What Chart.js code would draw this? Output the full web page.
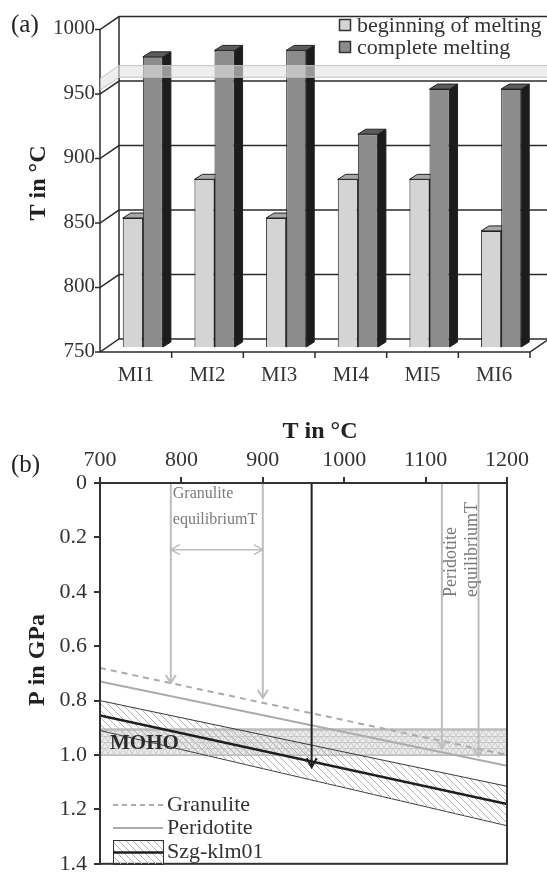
<!DOCTYPE html>
<html><head><meta charset="utf-8">
<script src="https://cdn.jsdelivr.net/npm/chart.js@4.4.1/dist/chart.umd.min.js"></script>
<style>
html,body{margin:0;padding:0;background:#fff;width:547px;height:884px;overflow:hidden}
#wa{position:absolute;left:0;top:0;width:547px;height:400px}
#wb{position:absolute;left:0;top:400px;width:547px;height:484px}
canvas{display:block}
</style></head><body>
<div id="wa"><canvas id="ca" width="547" height="400"></canvas></div>
<div id="wb"><canvas id="cb" width="547" height="484"></canvas></div>
<script>
// ---------- data (a) ----------
const samples = ['MI1','MI2','MI3','MI4','MI5','MI6'];
const beginningOfMelting = [850, 880, 850, 880, 880, 840];
const completeMelting = [975, 980, 980, 915, 950, 950];
const tempTicksA = [750, 800, 850, 900, 950, 1000];
const breakBandA = [953, 962];

// ---------- data (b) ----------
const tempEndsB = [700, 1200];
const granuliteP = [0.68, 1.00];
const peridotiteP = [0.73, 1.04];
const szgUpperP = [0.80, 1.115];
const szgMidP = [0.855, 1.18];
const szgLowerP = [0.91, 1.26];
const mohoP = [0.905, 1.0];
const pressureTicks = ['0','0.2','0.4','0.6','0.8','1.0','1.2','1.4'];
const granuliteEqT = [787, 900];
const granuliteEqTipP = [0.735, 0.79];
const granuliteRangeP = 0.245;
const peridotiteEqT = [1120, 1165];
const peridotiteEqTipP = [0.975, 1.005];
const szgArrowT = 960;
const szgArrowTipP = 1.045;

const FONT = '"Liberation Serif","Times New Roman",serif';
const FRONT = {dx:-7, dy:5}, BACK = {dx:12, dy:-8}, DEPTH = {dx:8, dy:-5};
const faceColors = [{top:'#a8a8a8', side:'#555555'}, {top:'#5c5c5c', side:'#1c1c1c'}];

function poly(ctx, p, fill, stroke){
  ctx.beginPath(); ctx.moveTo(p[0][0],p[0][1]);
  for(let i=1;i<p.length;i++) ctx.lineTo(p[i][0],p[i][1]);
  ctx.closePath();
  if(fill){ctx.fillStyle=fill; ctx.fill();}
  if(stroke){ctx.strokeStyle=stroke; ctx.stroke();}
}

const box3d = {
  id:'box3d',
  beforeDatasetsDraw(chart){
    const {ctx, chartArea:ca, scales:{x, y}} = chart;
    const W = chart.width;
    const L = ca.left, R = ca.right;
    const fx = L+FRONT.dx, bx = L+BACK.dx;
    const yTop = y.getPixelForValue(y.max), yBot = y.getPixelForValue(y.min);
    ctx.save();
    ctx.strokeStyle = '#2b2b2b'; ctx.lineWidth = 1.5; ctx.lineJoin='miter';
    ctx.beginPath();
    ctx.moveTo(bx, yTop+BACK.dy); ctx.lineTo(bx, yBot+BACK.dy);
    ctx.moveTo(fx, yTop+FRONT.dy); ctx.lineTo(fx, yBot+FRONT.dy);
    ctx.stroke();
    tempTicksA.forEach(v=>{
      const yy = y.getPixelForValue(v);
      ctx.beginPath();
      ctx.moveTo(fx-5, yy+FRONT.dy);
      ctx.lineTo(fx, yy+FRONT.dy);
      ctx.lineTo(bx, yy+BACK.dy);
      ctx.lineTo(v===y.min ? R+BACK.dx : W, yy+BACK.dy);
      ctx.stroke();
    });
    ctx.beginPath();
    ctx.moveTo(fx, yBot+FRONT.dy);
    ctx.lineTo(R+FRONT.dx, yBot+FRONT.dy);
    ctx.lineTo(R+BACK.dx, yBot+BACK.dy);
    ctx.stroke();
    ctx.beginPath();
    for(let i=1;i<=samples.length;i++){
      const xx = x.getPixelForValue(i-0.5)+FRONT.dx;
      ctx.moveTo(xx, yBot+FRONT.dy); ctx.lineTo(xx, yBot+FRONT.dy+6);
    }
    ctx.stroke();
    ctx.lineWidth = 1;
    chart.data.datasets.forEach((ds, di)=>{
      const meta = chart.getDatasetMeta(di);
      meta.data.forEach(el=>{
        const p = el.getProps(['x','y','width'], true);
        const xl = p.x-p.width/2, xr = p.x+p.width/2, top = p.y, base = yBot;
        poly(ctx, [[xr,top],[xr+DEPTH.dx,top+DEPTH.dy],[xr+DEPTH.dx,base+DEPTH.dy],[xr,base]], faceColors[di].side, '#222');
        poly(ctx, [[xl,top],[xl+DEPTH.dx,top+DEPTH.dy],[xr+DEPTH.dx,top+DEPTH.dy],[xr,top]], faceColors[di].top, '#222');
      });
    });
    ctx.restore();
  },
  afterDatasetsDraw(chart){
    const {ctx, chartArea:ca, scales:{y}} = chart;
    const W = chart.width;
    const L = ca.left;
    const fx = L+FRONT.dx, bx = L+BACK.dx;
    const y1 = y.getPixelForValue(breakBandA[1]), y2 = y.getPixelForValue(breakBandA[0]);
    ctx.save();
    const pts = [[fx,y1+FRONT.dy],[bx,y1+BACK.dy],[W,y1+BACK.dy],[W,y2+BACK.dy],[bx,y2+BACK.dy],[fx,y2+FRONT.dy]];
    poly(ctx, pts, 'rgba(228,228,228,0.62)', null);
    ctx.strokeStyle = '#c4c4c4'; ctx.lineWidth = 1;
    ctx.beginPath();
    ctx.moveTo(fx,y1+FRONT.dy); ctx.lineTo(bx,y1+BACK.dy); ctx.lineTo(W,y1+BACK.dy);
    ctx.moveTo(fx,y2+FRONT.dy); ctx.lineTo(bx,y2+BACK.dy); ctx.lineTo(W,y2+BACK.dy);
    ctx.stroke();
    ctx.restore();
  },
  afterDraw(chart){
    const {ctx} = chart;
    ctx.save();
    const cols = ['#d4d4d4', '#8c8c8c'];
    ctx.font = `22px ${FONT}`; ctx.textBaseline='middle'; ctx.textAlign='left';
    chart.data.datasets.forEach((ds,i)=>{
      const yy = 25 + i*22;
      ctx.fillStyle = cols[i]; ctx.fillRect(339.5, yy-5.5, 11, 11);
      ctx.strokeStyle = '#333'; ctx.lineWidth = 1.5; ctx.strokeRect(339.5, yy-5.5, 11, 11);
      ctx.fillStyle = '#333'; ctx.fillText(ds.label, 357, yy+1);
    });
    ctx.font = `25px ${FONT}`; ctx.fillStyle='#222';
    ctx.fillText('(a)', 11, 25);
    ctx.translate(39, 183); ctx.rotate(-Math.PI/2);
    ctx.font = `bold 24px ${FONT}`; ctx.textAlign='center';
    ctx.fillText('T in °C', 0, 0);
    ctx.restore();
  }
};

new Chart(document.getElementById('ca'), {
  type:'bar',
  data:{labels:samples, datasets:[
    {label:'beginning of melting', data:beginningOfMelting, backgroundColor:'#d4d4d4', borderColor:'#222', borderWidth:1, borderSkipped:false},
    {label:'complete melting', data:completeMelting, backgroundColor:'#8c8c8c', borderColor:'#222', borderWidth:1, borderSkipped:false}
  ]},
  options:{
    responsive:false, animation:false, devicePixelRatio:1,
    layout:{padding:{left:0, right:10, top:20, bottom:0}},
    datasets:{bar:{categoryPercentage:0.56, barPercentage:1}},
    plugins:{legend:{display:false}, tooltip:{enabled:false}},
    scales:{
      x:{grid:{display:false, drawTicks:false}, border:{display:false},
         ticks:{font:{family:FONT, size:21}, color:'#333', padding:16, labelOffset:-7, maxRotation:0, autoSkip:false},
         afterFit:s=>{s.height=53;}},
      y:{min:750, max:1000, grid:{display:false, drawTicks:false}, border:{display:false},
         afterBuildTicks:s=>{s.ticks = tempTicksA.map(v=>({value:v}));},
         ticks:{font:{family:FONT, size:21}, color:'#333', padding:12, labelOffset:4, callback:v=>String(v)},
         afterFit:s=>{s.width=107;}}
    }
  },
  plugins:[box3d]
});

// ---------- chart (b) ----------
function makePattern(size, fn){
  const c = document.createElement('canvas'); c.width = size; c.height = size;
  const g = c.getContext('2d'); fn(g, size);
  return g.createPattern(c, 'repeat');
}
const hatchPat = makePattern(7, (g,s)=>{
  g.strokeStyle = '#b4b4b4'; g.lineWidth = 1;
  g.beginPath();
  for(const k of [-s,0,s]){ g.moveTo(k,0); g.lineTo(k+s,s); }
  g.stroke();
});
const mohoPat = makePattern(6, (g,s)=>{
  g.fillStyle = '#ececec'; g.fillRect(0,0,s,s);
  g.strokeStyle = '#c2c2c2'; g.lineWidth = 0.8;
  g.beginPath();
  g.moveTo(0,0.5); g.lineTo(s,0.5);
  g.moveTo(0,s); g.lineTo(s/2,0); g.lineTo(s,s);
  g.stroke();
});
function pts(ts, ps){ return ts.map((t,i)=>({x:t, y:ps[i]})); }

function arrowHead(ctx, x, y, dir, len=8, half=5){
  ctx.beginPath();
  if(dir==='down'){ ctx.moveTo(x-half,y-len); ctx.lineTo(x,y); ctx.lineTo(x+half,y-len); }
  if(dir==='left'){ ctx.moveTo(x+len,y-half); ctx.lineTo(x,y); ctx.lineTo(x+len,y+half); }
  if(dir==='right'){ ctx.moveTo(x-len,y-half); ctx.lineTo(x,y); ctx.lineTo(x-len,y+half); }
  ctx.stroke();
}

const annotB = {
  id:'annotB',
  afterDatasetsDraw(chart){
    const {ctx, chartArea:ca, scales:{x, y}} = chart;
    ctx.save();
    const y0 = y.getPixelForValue(0);
    ctx.strokeStyle = '#bdbdbd'; ctx.lineWidth = 2;
    const grey = [...granuliteEqT.map((t,i)=>[t, granuliteEqTipP[i]]), ...peridotiteEqT.map((t,i)=>[t, peridotiteEqTipP[i]])];
    grey.forEach(([t,p])=>{
      const xx = x.getPixelForValue(t), yy = y.getPixelForValue(p);
      ctx.beginPath(); ctx.moveTo(xx, y0); ctx.lineTo(xx, yy); ctx.stroke();
      arrowHead(ctx, xx, yy, 'down');
    });
    const xa = x.getPixelForValue(granuliteEqT[0]), xb = x.getPixelForValue(granuliteEqT[1]);
    const yr = y.getPixelForValue(granuliteRangeP);
    ctx.lineWidth = 1.5;
    ctx.beginPath(); ctx.moveTo(xa, yr); ctx.lineTo(xb, yr); ctx.stroke();
    arrowHead(ctx, xa, yr, 'left', 9, 5); arrowHead(ctx, xb, yr, 'right', 9, 5);
    ctx.strokeStyle = '#1e1e1e'; ctx.lineWidth = 2;
    const xs = x.getPixelForValue(szgArrowT), ys = y.getPixelForValue(szgArrowTipP);
    ctx.beginPath(); ctx.moveTo(xs, y0); ctx.lineTo(xs, ys); ctx.stroke();
    arrowHead(ctx, xs, ys, 'down', 9, 5);
    ctx.fillStyle = '#7a7a7a'; ctx.textBaseline='middle'; ctx.textAlign='left';
    ctx.font = `16px ${FONT}`;
    ctx.fillText('Granulite', xa+2, 94);
    ctx.fillText('equilibriumT', xa+2, 120);
    ctx.save();
    ctx.font = `18px ${FONT}`;
    ctx.translate(x.getPixelForValue(peridotiteEqT[0])+9, 197); ctx.rotate(-Math.PI/2);
    ctx.fillText('Peridotite', 0, 0);
    ctx.restore();
    ctx.save();
    ctx.font = `18px ${FONT}`;
    ctx.translate(x.getPixelForValue(peridotiteEqT[1])-6, 197); ctx.rotate(-Math.PI/2);
    ctx.fillText('equilibriumT', 0, 0);
    ctx.restore();
    ctx.fillStyle = '#2a2a2a'; ctx.font = `bold 21px ${FONT}`;
    ctx.fillText('MOHO', ca.left+10, (y.getPixelForValue(mohoP[0])+y.getPixelForValue(mohoP[1]))/2+1);
    ctx.strokeStyle = '#333'; ctx.lineWidth = 2;
    ctx.strokeRect(ca.left, ca.top, ca.right-ca.left, ca.bottom-ca.top);
    const lx0 = ca.left+13, lx1 = ca.left+63, tx = ca.left+67;
    ctx.font = `22px ${FONT}`; ctx.fillStyle = '#333';
    ctx.strokeStyle = '#ababab'; ctx.lineWidth = 2;
    ctx.setLineDash([5,4]);
    ctx.beginPath(); ctx.moveTo(lx0, 405); ctx.lineTo(lx1, 405); ctx.stroke();
    ctx.setLineDash([]);
    ctx.fillText(chart.data.datasets[0].label, tx, 405);
    ctx.beginPath(); ctx.moveTo(lx0, 428); ctx.lineTo(lx1, 428); ctx.stroke();
    ctx.fillText(chart.data.datasets[1].label, tx, 428);
    ctx.fillStyle = hatchPat; ctx.fillRect(lx0, 440, lx1-lx0, 24);
    ctx.strokeStyle = '#333'; ctx.lineWidth = 1; ctx.strokeRect(lx0+0.5, 440.5, lx1-lx0, 24);
    ctx.strokeStyle = '#1e1e1e'; ctx.lineWidth = 2.5;
    ctx.beginPath(); ctx.moveTo(lx0, 452.5); ctx.lineTo(lx1, 452.5); ctx.stroke();
    ctx.fillStyle = '#333';
    ctx.fillText(chart.data.datasets[2].label, tx, 452);
    ctx.restore();
  },
  afterDraw(chart){
    const {ctx} = chart;
    ctx.save();
    ctx.fillStyle = '#222'; ctx.textBaseline='middle';
    ctx.font = `25px ${FONT}`; ctx.textAlign='left';
    ctx.fillText('(b)', 11, 65);
    ctx.font = `bold 24px ${FONT}`; ctx.textAlign='center';
    ctx.fillText('T in °C', 320, 32);
    ctx.translate(38, 260); ctx.rotate(-Math.PI/2);
    ctx.fillText('P in GPa', 0, 0);
    ctx.restore();
  }
};

new Chart(document.getElementById('cb'), {
  type:'line',
  data:{datasets:[
    {label:'Granulite', data:pts(tempEndsB, granuliteP), borderColor:'#ababab', borderWidth:2, borderDash:[6,5], pointRadius:0, fill:false, order:1},
    {label:'Peridotite', data:pts(tempEndsB, peridotiteP), borderColor:'#ababab', borderWidth:2, pointRadius:0, fill:false, order:2},
    {label:'Szg-klm01', data:pts(tempEndsB, szgMidP), borderColor:'#1e1e1e', borderWidth:2.5, pointRadius:0, fill:false, order:3},
    {label:'Szg-klm01 upper', data:pts(tempEndsB, szgUpperP), borderColor:'#3a3a3a', borderWidth:1, pointRadius:0, fill:'+1', backgroundColor:hatchPat, order:4},
    {label:'Szg-klm01 lower', data:pts(tempEndsB, szgLowerP), borderColor:'#3a3a3a', borderWidth:1, pointRadius:0, fill:false, order:5},
    {label:'MOHO top', data:pts(tempEndsB, [mohoP[0], mohoP[0]]), borderColor:'#bdbdbd', borderWidth:2, pointRadius:0, fill:'+1', backgroundColor:mohoPat, order:6},
    {label:'MOHO bottom', data:pts(tempEndsB, [mohoP[1], mohoP[1]]), borderColor:'#bdbdbd', borderWidth:2, pointRadius:0, fill:false, order:7}
  ]},
  options:{
    responsive:false, animation:false, devicePixelRatio:1,
    layout:{padding:{left:0, right:40, top:0, bottom:7}},
    plugins:{legend:{display:false}, tooltip:{enabled:false}},
    scales:{
      x:{type:'linear', position:'top', min:700, max:1200,
         grid:{drawOnChartArea:false, drawTicks:true, tickLength:6, color:'#333', lineWidth:2},
         border:{display:true, color:'#333', width:2},
         ticks:{stepSize:100, font:{family:FONT, size:22}, color:'#333', padding:4, callback:v=>String(v)},
         afterFit:s=>{s.height=83;}},
      y:{type:'linear', reverse:true, min:0, max:1.4,
         grid:{drawOnChartArea:false, drawTicks:true, tickLength:6, color:'#333', lineWidth:2},
         border:{display:true, color:'#333', width:2},
         afterBuildTicks:s=>{s.ticks = pressureTicks.map(t=>({value:parseFloat(t)}));},
         ticks:{font:{family:FONT, size:22}, color:'#333', padding:7, callback:(v,i)=>pressureTicks[i]},
         afterFit:s=>{s.width=100;}}
    }
  },
  plugins:[annotB]
});
</script>
</body></html>
